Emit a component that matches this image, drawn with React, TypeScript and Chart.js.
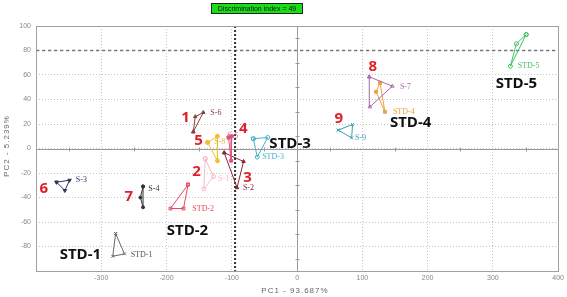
import React, { useEffect, useRef } from "react";
import { Chart, registerables } from "chart.js";
Chart.register(...registerables);

// ---- data (PC1, PC2) ----
const S3 = [[-368.5, -27.5], [-348.6, -25.9], [-355.8, -34.3]];
const S4 = [[-236, -31], [-240, -40], [-236, -48]];
const STD1 = [[-278, -69.4], [-264.5, -86], [-282.4, -88]];
const S6 = [[-159, 13.6], [-156, 26], [-143.7, 29.4]];
const S8 = [[-137, 5], [-122, 10], [-122, -10]];
const S5 = [[-105, 9], [-100, 10], [-101, -10]];
const S2 = [[-111.6, -3.5], [-82, -10.6], [-92, -32]];
const S1 = [[-140.7, -8.4], [-128, -23], [-143, -33]];
const STD2 = [[-167, -29.4], [-174, -49], [-194, -49]];
const STD3 = [[-67, 8], [-45, 9], [-61, -7]];
const S9 = [[63, 15], [85, 19.6], [83.6, 8.7]];
const S7 = [[110.6, 58.5], [146, 50.9], [111.6, 34]];
const STD4 = [[127, 53.6], [121, 46.3], [134.6, 30]];
const STD5 = [[351, 93], [336, 85.5], [326.8, 67.2]];

const X_TICKS = [-400, -300, -200, -100, 0, 100, 200, 300, 400];
const Y_TICKS = [-100, -80, -60, -40, -20, 0, 20, 40, 60, 80, 100];
const REF_X = -95;
const REF_Y = 80;
const TITLE = "Discrimination index = 49";
const X_TITLE = "PC1 - 93.687%";
const Y_TITLE = "PC2 - 5.239%";

// small sample labels: [text, x, y, color]
const SMALL_LABELS: [string, number, number, string][] = [
  ["S-3", -339, -26, "#2a3560"],
  ["S-4", -228, -32.7, "#333333"],
  ["STD-1", -255, -86.5, "#555555"],
  ["S-6", -133, 29.4, "#8a4040"],
  ["S-8", -127, 5, "#e8b830"],
  ["S-5", -107, 10, "#e05080"],
  ["S-1", -121, -25, "#f5b8c8"],
  ["S-2", -83, -32, "#8a2535"],
  ["STD-2", -160.5, -49, "#e84860"],
  ["STD-3", -53.5, -6.5, "#48b0c8"],
  ["S-9", 88.7, 9, "#3aa0b0"],
  ["S-7", 157.5, 50.6, "#a868a8"],
  ["STD-4", 146.8, 30.2, "#f0a040"],
  ["STD-5", 338, 67.8, "#40c060"],
];
// big black labels (centered)
const BIG_LABELS: [string, number, number][] = [
  ["STD-1", -332, -86.5],
  ["STD-2", -168, -67],
  ["STD-3", -10.7, 4],
  ["STD-4", 174, 21],
  ["STD-5", 336, 53],
];
// red group numbers (centered)
const NUM_LABELS: [string, number, number][] = [
  ["1", -171, 25],
  ["2", -154, -19],
  ["3", -76, -24],
  ["4", -82.5, 16],
  ["5", -151, 6],
  ["6", -388, -33],
  ["7", -258, -39],
  ["8", 116, 67],
  ["9", 64, 24],
];

const SERIES: { pts: number[][]; color: string; style: string; rot?: number; fill?: boolean; r?: number }[] = [
  { pts: S3, color: "#2a3560", style: "triangle", rot: 180, fill: true },
  { pts: S4, color: "#333333", style: "circle", fill: true, r: 1.5 },
  { pts: STD1, color: "#666666", style: "crossRot" },
  { pts: S6, color: "#8a4040", style: "triangle", fill: true },
  { pts: S8, color: "#f0c030", style: "circle", fill: true },
  { pts: S5, color: "#e05080", style: "rect", fill: true },
  { pts: S2, color: "#8a2535", style: "triangle", fill: true },
  { pts: S1, color: "#f5b8c8", style: "circle" },
  { pts: STD2, color: "#e84860", style: "rect" },
  { pts: STD3, color: "#48b0c8", style: "circle" },
  { pts: S9, color: "#3aa0b0", style: "crossRot" },
  { pts: S7, color: "#a868a8", style: "triangle" },
  { pts: STD4, color: "#f0a040", style: "rect", fill: true },
  { pts: STD5, color: "#40c060", style: "circle" },
];

const overlay = {
  id: "overlay",
  beforeDatasetsDraw(chart: any) {
    const { ctx, chartArea: a, scales } = chart;
    const xs = scales.x, ys = scales.y;
    ctx.save();
    ctx.strokeStyle = "#9a9a9a";
    ctx.lineWidth = 1;
    const x0 = Math.round(xs.getPixelForValue(0)) + 0.5;
    const y0 = Math.round(ys.getPixelForValue(0)) + 0.5;
    ctx.beginPath();
    ctx.moveTo(a.left, y0); ctx.lineTo(a.right, y0);
    ctx.moveTo(x0, a.top); ctx.lineTo(x0, a.bottom);
    ctx.stroke();
    ctx.beginPath();
    for (let v = -350; v <= 350; v += 100) {
      const p = Math.round(xs.getPixelForValue(v)) + 0.5;
      ctx.moveTo(p, y0 - 2); ctx.lineTo(p, y0 + 2);
    }
    for (let v = -90; v <= 90; v += 20) {
      const p = Math.round(ys.getPixelForValue(v)) + 0.5;
      ctx.moveTo(x0 - 2, p); ctx.lineTo(x0 + 2, p);
    }
    ctx.stroke();
    ctx.strokeStyle = "#777";
    ctx.lineWidth = 1.5;
    ctx.setLineDash([3, 3]);
    const yr = ys.getPixelForValue(REF_Y);
    ctx.beginPath(); ctx.moveTo(a.left, yr); ctx.lineTo(a.right, yr); ctx.stroke();
    ctx.strokeStyle = "#333";
    ctx.lineWidth = 2;
    ctx.setLineDash([2, 2]);
    const xr = xs.getPixelForValue(REF_X);
    ctx.beginPath(); ctx.moveTo(xr, a.top); ctx.lineTo(xr, a.bottom); ctx.stroke();
    ctx.setLineDash([]);
    ctx.strokeStyle = "#a0a0a0";
    ctx.lineWidth = 1;
    ctx.strokeRect(Math.round(a.left) + 0.5, Math.round(a.top) + 0.5, Math.round(a.right - a.left), Math.round(a.bottom - a.top));
    ctx.restore();
  },
  afterDatasetsDraw(chart: any) {
    const { ctx, scales } = chart;
    const xs = scales.x, ys = scales.y;
    ctx.save();
    ctx.textBaseline = "middle";
    ctx.textAlign = "left";
    ctx.font = "8px 'Liberation Serif'";
    SMALL_LABELS.forEach(([t, x, y, c]) => {
      ctx.fillStyle = c;
      ctx.fillText(t, xs.getPixelForValue(x), ys.getPixelForValue(y));
    });
    ctx.textAlign = "center";
    ctx.font = "bold 15px 'Open Sans'";
    ctx.fillStyle = "#111";
    BIG_LABELS.forEach(([t, x, y]) => {
      ctx.fillText(t, xs.getPixelForValue(x), ys.getPixelForValue(y));
    });
    ctx.fillStyle = "#e02028";
    NUM_LABELS.forEach(([t, x, y]) => {
      ctx.fillText(t, xs.getPixelForValue(x), ys.getPixelForValue(y));
    });
    ctx.font = "7px 'Liberation Sans'";
    const bx = 211, by = 3, bw = 92, bh = 11;
    ctx.fillStyle = "#18e018";
    ctx.fillRect(bx, by, bw, bh);
    ctx.strokeStyle = "#222";
    ctx.lineWidth = 1;
    ctx.strokeRect(bx + 0.5, by + 0.5, bw - 1, bh - 1);
    ctx.fillStyle = "#111";
    ctx.fillText(TITLE, bx + bw / 2, by + bh / 2 + 0.5);
    ctx.fillStyle = "#666";
    ctx.font = "8px 'Liberation Sans'";
    (ctx as any).letterSpacing = "1px";
    ctx.fillText(X_TITLE, 295, 291);
    ctx.save();
    ctx.translate(7, 146);
    ctx.rotate(-Math.PI / 2);
    ctx.fillText(Y_TITLE, 0, 0);
    ctx.restore();
    ctx.restore();
  },
};

export default function App() {
  const ref = useRef<HTMLCanvasElement>(null);
  useEffect(() => {
    const datasets = SERIES.map((s) => ({
      data: [...s.pts, s.pts[0]].map(([x, y]) => ({ x, y })),
      showLine: true,
      borderColor: s.color,
      borderWidth: 1,
      pointStyle: s.style,
      pointRotation: s.rot || 0,
      pointRadius: s.r || 2,
      pointBorderColor: s.color,
      pointBackgroundColor: s.fill ? s.color : "rgba(255,255,255,0)",
      pointBorderWidth: 1,
    }));
    const chart = new Chart(ref.current!, {
      type: "scatter",
      data: { datasets },
      options: {
        animation: false,
        responsive: false,
        devicePixelRatio: 1,
        layout: { padding: { top: 26, right: 8, left: 0, bottom: 0 } },
        plugins: { legend: { display: false }, tooltip: { enabled: false } },
        scales: {
          x: {
            type: "linear",
            min: X_TICKS[0],
            max: X_TICKS[X_TICKS.length - 1],
            afterBuildTicks: (sc: any) => { sc.ticks = X_TICKS.map((v) => ({ value: v })); },
            afterFit: (sc: any) => { sc.height = 26; },
            ticks: {
              font: { size: 7, family: "'Liberation Sans'" },
              color: "#888",
              padding: 3,
              maxRotation: 0,
              callback: (v: any) => (v === X_TICKS[0] ? "" : String(v)),
            },
            grid: { color: "#c4c4c4", drawTicks: false },
            border: { display: false, dash: [1, 2] },
          },
          y: {
            type: "linear",
            min: Y_TICKS[0],
            max: Y_TICKS[Y_TICKS.length - 1],
            afterBuildTicks: (sc: any) => { sc.ticks = Y_TICKS.map((v) => ({ value: v })); },
            afterFit: (sc: any) => { sc.width = 36; },
            ticks: {
              font: { size: 7, family: "'Liberation Sans'" },
              color: "#888",
              padding: 5,
              callback: (v: any) => (v === Y_TICKS[0] ? "" : String(v)),
            },
            grid: { color: "#c4c4c4", drawTicks: false },
            border: { display: false, dash: [1, 2] },
          },
        },
      },
      plugins: [overlay],
    } as any);
    return () => chart.destroy();
  }, []);
  return (
    <div style={{ position: "fixed", left: 0, top: 0, width: 567, height: 297, background: "#fff" }}>
      <canvas ref={ref} width={567} height={297} />
    </div>
  );
}
